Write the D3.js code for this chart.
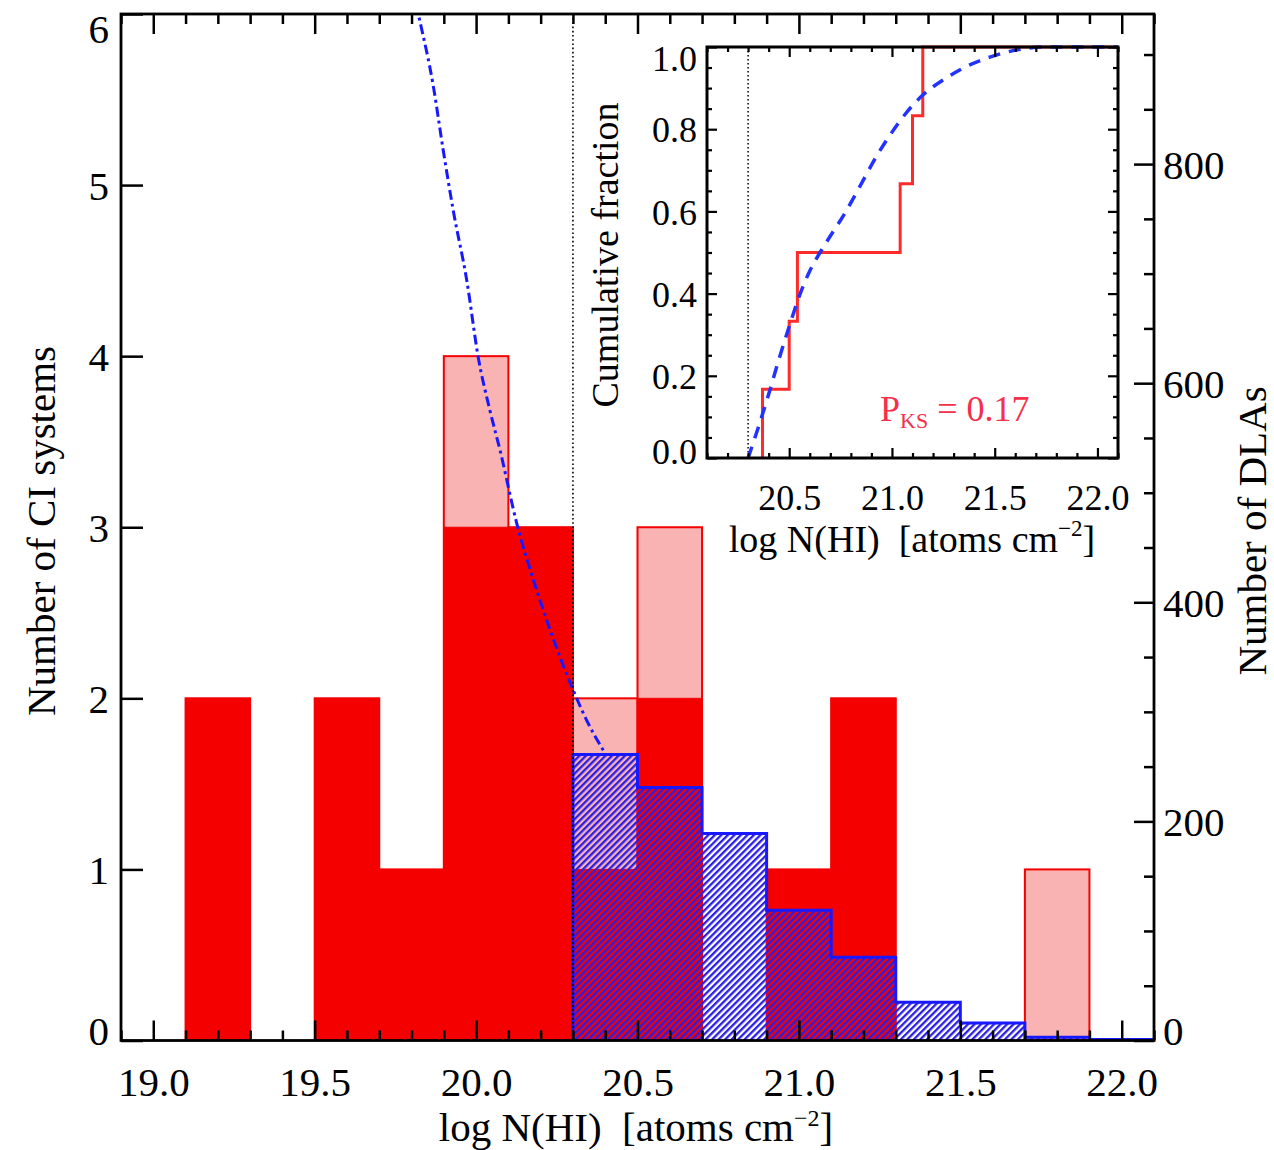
<!DOCTYPE html>
<html><head><meta charset="utf-8">
<script src="https://cdn.jsdelivr.net/npm/d3@7"></script>
<style>body{margin:0;background:#fff} text{font-family:"Liberation Serif","Times New Roman",serif;fill:#000}</style>
</head><body>
<svg id="c" width="1274" height="1150"></svg>
<script>
// ---------- data ----------
const binWidth = 0.2;
const ciBinStart = [19.1, 19.3, 19.5, 19.7, 19.9, 20.1, 20.3, 20.5, 20.7, 20.9, 21.1, 21.3, 21.5, 21.7];
const ciAll      = [2,    0,    2,    1,    4,    3,    2,    3,    0,    1,    2,    0,    0,    1];
const ciSub      = [2,    0,    2,    1,    3,    3,    1,    2,    0,    1,    2,    0,    0,    0];
const dlaBinStart = [20.3, 20.5, 20.7, 20.9, 21.1, 21.3, 21.5, 21.7, 21.9];
const dlaCounts   = [261,  231,  189,  119,  76,   35,   16,   3,    1];
const fitX = [19.80, 19.821, 19.867, 19.898, 19.929, 19.971, 20.007, 20.043, 20.074, 20.126, 20.177, 20.229, 20.299, 20.343, 20.40];
const fitY = [965,   937,    872,    813,    758,    694,    623,    575,    539,    472,    421,    375,    321,    292,    262];
const cdfObsX = [20.37, 20.37, 20.50, 20.54, 21.04, 21.10, 21.15, 22.1];
const cdfObsY = [0,     0.167, 0.333, 0.5,   0.667, 0.833, 1.0,   1.0];
const cdfModelX = [20.30, 20.35, 20.40, 20.45, 20.50, 20.55, 20.60, 20.65, 20.70, 20.77, 20.81, 20.87, 20.92, 20.99, 21.07, 21.15, 21.25, 21.36, 21.48, 21.61, 21.74, 22.0, 22.1];
const cdfModelY = [0.0,   0.075, 0.155, 0.24,  0.32,  0.395, 0.455, 0.50,  0.54,  0.595, 0.63,  0.685, 0.73,  0.785, 0.84,  0.883, 0.92,  0.952, 0.976, 0.993, 1.0,   1.0,  1.0];
const cutX = 20.3;
const xMajor = [19.0, 19.5, 20.0, 20.5, 21.0, 21.5, 22.0];
const xMajorLabels = ["19.0", "19.5", "20.0", "20.5", "21.0", "21.5", "22.0"];
const yLeftTicks = [0, 1, 2, 3, 4, 5, 6];
const yLeftLabels = ["0", "1", "2", "3", "4", "5", "6"];
const yRightTicks = [0, 200, 400, 600, 800];
const yRightLabels = ["0", "200", "400", "600", "800"];
const inXMajor = [20.5, 21.0, 21.5, 22.0];
const inXLabels = ["20.5", "21.0", "21.5", "22.0"];
const inYMajor = [0, 0.2, 0.4, 0.6, 0.8, 1.0];
const inYLabels = ["0.0", "0.2", "0.4", "0.6", "0.8", "1.0"];

// ---------- setup ----------
const RED = "#f40000", PINK = "#f9b3b3", BLUE = "#1818ff";
const svg = d3.select("#c");
const M = {left: 121, right: 1154, top: 14, bottom: 1040.5};
const x = d3.scaleLinear().domain([18.9, 22.1]).range([M.left, M.right]);
const y = d3.scaleLinear().domain([0, 6]).range([M.bottom, M.top]);
const y2 = d3.scaleLinear().domain([0, 937]).range([M.bottom, M.top]);

const defs = svg.append("defs");
defs.append("clipPath").attr("id", "plotclip").append("rect")
  .attr("x", M.left).attr("y", M.top).attr("width", M.right - M.left).attr("height", M.bottom - M.top);
const pat = defs.append("pattern").attr("id", "hatch").attr("patternUnits", "userSpaceOnUse")
  .attr("width", 4.6).attr("height", 4.6).attr("patternTransform", "rotate(45)");
pat.append("rect").attr("x", 0).attr("y", 0).attr("width", 2.3).attr("height", 4.6).attr("fill", "#2a1ee6");

const plot = svg.append("g").attr("clip-path", "url(#plotclip)");

// pink (all) bars
const allData = ciBinStart.map((s, i) => ({s, v: ciAll[i]})).filter(d => d.v > 0);
plot.append("g").selectAll("rect").data(allData).join("rect")
  .attr("x", d => x(d.s)).attr("width", d => x(d.s + binWidth) - x(d.s))
  .attr("y", d => y(d.v)).attr("height", d => y(0) - y(d.v))
  .attr("fill", PINK).attr("stroke", RED).attr("stroke-width", 2);
// solid red bars
const subData = ciBinStart.map((s, i) => ({s, v: ciSub[i]})).filter(d => d.v > 0);
plot.append("g").selectAll("rect").data(subData).join("rect")
  .attr("x", d => x(d.s)).attr("width", d => x(d.s + binWidth) - x(d.s))
  .attr("y", d => y(d.v)).attr("height", d => y(0) - y(d.v))
  .attr("fill", RED).attr("stroke", RED).attr("stroke-width", 1);

// DLA hatched histogram
const dlaPts = dlaBinStart.map((s, i) => [s, dlaCounts[i]]);
dlaPts.push([dlaBinStart[dlaBinStart.length - 1] + binWidth, dlaCounts[dlaCounts.length - 1]]);
plot.append("path").datum(dlaPts)
  .attr("d", d3.area().x(d => x(d[0])).y0(y2(0)).y1(d => y2(d[1])).curve(d3.curveStepAfter))
  .attr("fill", "url(#hatch)");
plot.append("path").datum([[dlaBinStart[0], 0]].concat(dlaPts))
  .attr("d", d3.line().x(d => x(d[0])).y(d => y2(d[1])).curve(d3.curveStepAfter))
  .attr("fill", "none").attr("stroke", BLUE).attr("stroke-width", 3);

// fit curve (dash-dot)
plot.append("path").datum(fitX.map((v, i) => [v, fitY[i]]))
  .attr("d", d3.line().x(d => x(d[0])).y(d => y2(d[1])).curve(d3.curveMonotoneX))
  .attr("fill", "none").attr("stroke", BLUE).attr("stroke-width", 3)
  .attr("stroke-dasharray", "10,4,3,4");

// dotted cut line
svg.append("line").attr("x1", x(cutX)).attr("x2", x(cutX)).attr("y1", M.top).attr("y2", M.bottom)
  .attr("stroke", "#000").attr("stroke-width", 1.6).attr("stroke-dasharray", "1.6,2.6");

// ---------- axes ----------
const FS = 41;
function styleAxis(g) {
  g.select(".domain").remove();
  g.selectAll(".tick line").attr("stroke", "#000").attr("stroke-width", 2.5);
  g.selectAll("text").attr("font-size", FS).attr("font-family", "Liberation Serif, Times New Roman, serif").attr("fill", "#000");
}
const xMinor = d3.range(189, 222).map(v => v / 10).filter(v => Math.abs(v * 2 - Math.round(v * 2)) > 1e-6);
// bottom
svg.append("g").attr("transform", `translate(0,${M.bottom})`)
  .call(d3.axisBottom(x).tickValues(xMinor).tickSize(-10).tickFormat("")).call(styleAxis);
const gb = svg.append("g").attr("transform", `translate(0,${M.bottom})`)
  .call(d3.axisBottom(x).tickValues(xMajor).tickSize(-20).tickFormat((d, i) => xMajorLabels[i])).call(styleAxis);
gb.selectAll("text").attr("y", 41).attr("dy", "0.35em");
// top
svg.append("g").attr("transform", `translate(0,${M.top})`)
  .call(d3.axisTop(x).tickValues(xMinor).tickSize(-10).tickFormat("")).call(styleAxis);
svg.append("g").attr("transform", `translate(0,${M.top})`)
  .call(d3.axisTop(x).tickValues(xMajor).tickSize(-20).tickFormat("")).call(styleAxis);
// left
const gl = svg.append("g").attr("transform", `translate(${M.left},0)`)
  .call(d3.axisLeft(y).tickValues(yLeftTicks).tickSize(-22).tickFormat((d, i) => yLeftLabels[i])).call(styleAxis);
gl.selectAll("text").attr("x", -12).attr("dy", "0.35em")
  .attr("transform", d => d === 6 ? "translate(0,14)" : d === 0 ? "translate(0,-10)" : null);
// right
svg.append("g").attr("transform", `translate(${M.right},0)`)
  .call(d3.axisRight(y2).tickValues(d3.range(50, 937, 50).filter(v => v % 200 !== 0)).tickSize(-10).tickFormat("")).call(styleAxis);
const gr = svg.append("g").attr("transform", `translate(${M.right},0)`)
  .call(d3.axisRight(y2).tickValues(yRightTicks).tickSize(-20).tickFormat((d, i) => yRightLabels[i])).call(styleAxis);
gr.selectAll("text").attr("x", 9).attr("dy", "0.35em")
  .attr("transform", d => d === 0 ? "translate(0,-10)" : null);
// frame
svg.append("rect").attr("x", M.left).attr("y", M.top).attr("width", M.right - M.left).attr("height", M.bottom - M.top)
  .attr("fill", "none").attr("stroke", "#000").attr("stroke-width", 2.8);

// axis titles
const xt = svg.append("text").attr("x", 636).attr("y", 1141).attr("text-anchor", "middle").attr("font-size", FS);
xt.append("tspan").text("log N(HI)\u00a0\u00a0[atoms cm");
xt.append("tspan").attr("font-size", 24).attr("dy", -15).text("\u22122");
xt.append("tspan").attr("dy", 15).text("]");
svg.append("text").attr("transform", "translate(55,531) rotate(-90)").attr("text-anchor", "middle")
  .attr("font-size", FS).text("Number of CI systems");
svg.append("text").attr("transform", "translate(1266,531) rotate(-90)").attr("text-anchor", "middle")
  .attr("font-size", FS).text("Number of DLAs");

// ---------- inset ----------
const I = {left: 707, right: 1118, top: 47, bottom: 458};
const ix = d3.scaleLinear().domain([20.1, 22.1]).range([I.left, I.right]);
const iy = d3.scaleLinear().domain([0, 1]).range([I.bottom, I.top]);
const ins = svg.append("g");
ins.append("rect").attr("x", I.left).attr("y", I.top).attr("width", I.right - I.left).attr("height", I.bottom - I.top).attr("fill", "#fff");
ins.append("line").attr("x1", ix(cutX)).attr("x2", ix(cutX)).attr("y1", I.top).attr("y2", I.bottom)
  .attr("stroke", "#000").attr("stroke-width", 1.5).attr("stroke-dasharray", "1.5,2.5");
ins.append("path").datum(cdfObsX.map((v, i) => [v, cdfObsY[i]]))
  .attr("d", d3.line().x(d => ix(d[0])).y(d => iy(d[1])).curve(d3.curveStepAfter))
  .attr("fill", "none").attr("stroke", "#ff2a2a").attr("stroke-width", 3);
ins.append("path").datum(cdfModelX.map((v, i) => [v, cdfModelY[i]]))
  .attr("d", d3.line().x(d => ix(d[0])).y(d => iy(d[1])).curve(d3.curveMonotoneX))
  .attr("fill", "none").attr("stroke", "#2233ff").attr("stroke-width", 3.5).attr("stroke-dasharray", "12,9");

const IFS = 36;
function styleIn(g) {
  g.select(".domain").remove();
  g.selectAll(".tick line").attr("stroke", "#000").attr("stroke-width", 2.2);
  g.selectAll("text").attr("font-size", IFS).attr("font-family", "Liberation Serif, Times New Roman, serif").attr("fill", "#000");
}
const inXMinor = d3.range(201, 222).map(v => v / 10).filter(v => Math.abs(v * 2 - Math.round(v * 2)) > 1e-6);
const inYMinor = d3.range(1, 20).map(v => v / 20).filter(v => Math.abs(v * 5 - Math.round(v * 5)) > 1e-6);
ins.append("g").attr("transform", `translate(0,${I.bottom})`).call(d3.axisBottom(ix).tickValues(inXMinor).tickSize(-5).tickFormat("")).call(styleIn);
const ib = ins.append("g").attr("transform", `translate(0,${I.bottom})`)
  .call(d3.axisBottom(ix).tickValues(inXMajor).tickSize(-10).tickFormat((d, i) => inXLabels[i])).call(styleIn);
ib.selectAll("text").attr("y", 39).attr("dy", "0.35em");
ins.append("g").attr("transform", `translate(0,${I.top})`).call(d3.axisTop(ix).tickValues(inXMinor).tickSize(-5).tickFormat("")).call(styleIn);
ins.append("g").attr("transform", `translate(0,${I.top})`).call(d3.axisTop(ix).tickValues(inXMajor).tickSize(-10).tickFormat("")).call(styleIn);
ins.append("g").attr("transform", `translate(${I.left},0)`).call(d3.axisLeft(iy).tickValues(inYMinor).tickSize(-5).tickFormat("")).call(styleIn);
const il = ins.append("g").attr("transform", `translate(${I.left},0)`)
  .call(d3.axisLeft(iy).tickValues(inYMajor).tickSize(-10).tickFormat((d, i) => inYLabels[i])).call(styleIn);
il.selectAll("text").attr("x", -10).attr("dy", "0.35em")
  .attr("transform", d => d === 1 ? "translate(0,11)" : d === 0 ? "translate(0,-7)" : null);
ins.append("g").attr("transform", `translate(${I.right},0)`).call(d3.axisRight(iy).tickValues(inYMinor).tickSize(-5).tickFormat("")).call(styleIn);
ins.append("g").attr("transform", `translate(${I.right},0)`).call(d3.axisRight(iy).tickValues(inYMajor).tickSize(-10).tickFormat("")).call(styleIn);
ins.append("rect").attr("x", I.left).attr("y", I.top).attr("width", I.right - I.left).attr("height", I.bottom - I.top)
  .attr("fill", "none").attr("stroke", "#000").attr("stroke-width", 3);

const ixt = ins.append("text").attr("x", 912).attr("y", 552).attr("text-anchor", "middle").attr("font-size", 38);
ixt.append("tspan").text("log N(HI)\u00a0\u00a0[atoms cm");
ixt.append("tspan").attr("font-size", 23).attr("dy", -16).text("\u22122");
ixt.append("tspan").attr("dy", 16).text("]");
ins.append("text").attr("transform", "translate(618,255) rotate(-90)").attr("text-anchor", "middle")
  .attr("font-size", 38).text("Cumulative fraction");
const pks = ins.append("text").attr("x", 880).attr("y", 421).attr("font-size", 36).style("fill", "#f5304a");
pks.append("tspan").text("P");
pks.append("tspan").attr("font-size", 22).attr("dy", 7).text("KS");
pks.append("tspan").attr("dy", -7).text(" = 0.17");
</script>
</body></html>
